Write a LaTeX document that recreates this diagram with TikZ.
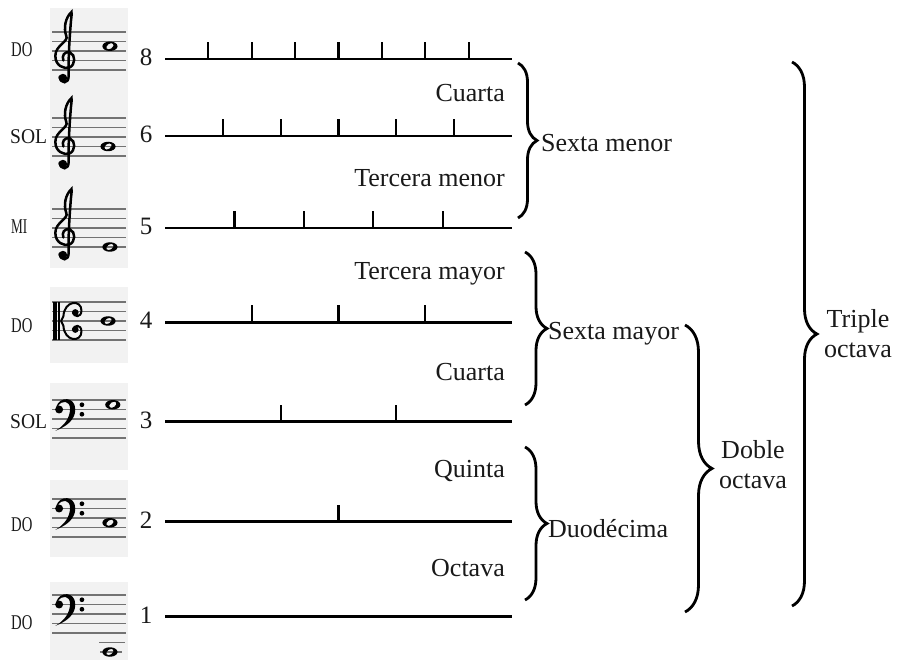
\documentclass[tikz,border=0pt]{standalone}
\usepackage{fontspec}
\setmainfont{Liberation Serif}
\usetikzlibrary{decorations.pathreplacing,calc}

\definecolor{staffbg}{gray}{0.95}
\definecolor{staffline}{gray}{0.45}

\tikzset{
  scaleline/.style={line width=2.6pt},
  scaletick/.style={line width=2.2pt},
  interval/.style={font=\fontsize{26}{30}\selectfont, text=black!90, inner sep=0pt},
  degree/.style={font=\fontsize{25}{30}\selectfont, text=black!90, inner sep=0pt},
  notename/.style={font=\fontsize{21}{24}\selectfont, text=black!90, inner sep=0pt, anchor=west},
  bigbrace/.style={decorate, decoration={brace, amplitude=#1}, line width=2.8pt},
  stafflines/.style={staffline, line width=1.3pt},
}

% staff pieces, drawn in staff units (bottom line at y=0)
\newcommand{\pentagram}{\foreach \l in {0,...,4} \draw[stafflines] (0,\l) -- (7.8,\l);}
\newcommand{\wnote}[2]{\fill[even odd rule] (#1,#2) ellipse (0.8 and 0.5)
  {[rotate around={35:(#1,#2)}] (#1,#2) ellipse (0.42 and 0.27)};}
\newcommand{\clefsol}{%
  \draw[line width=2.5pt, line cap=round]
    (0.8,-0.7) .. controls (0.9,-1.5) and (1.8,-1.5) .. (1.75,-0.6)
    .. controls (1.7,1.5) and (1.9,4.0) .. (2.0,5.2)
    .. controls (2.05,5.7) and (2.1,6.0) .. (2.05,6.1)
    .. controls (1.4,5.5) and (1.2,4.4) .. (1.5,3.6)
    .. controls (1.8,3.0) and (0.35,2.6) .. (0.35,1.5)
    .. controls (0.35,0.4) and (1.3,0.1) .. (1.8,0.25)
    .. controls (2.5,0.5) and (2.5,1.6) .. (1.9,1.85)
    .. controls (1.3,2.0) and (1.0,1.5) .. (1.2,1.0);
  \fill (1.15,-0.85) circle (0.45);}
\newcommand{\cleffa}{%
  \fill (0.75,3.0) circle (0.42);
  \fill (0.45,3.3) .. controls (0.8,4.4) and (2.45,4.4) .. (2.45,3.0)
    .. controls (2.45,1.9) and (1.5,1.2) .. (0.35,0.75)
    .. controls (1.3,1.3) and (1.9,2.1) .. (1.9,3.1)
    .. controls (1.9,3.95) and (1.0,4.05) .. (0.6,3.3) -- cycle;
  \fill (3.15,3.5) circle (0.25) (3.15,2.5) circle (0.25);}
\newcommand{\clefdo}{%
  \fill (0.1,-0.05) rectangle (0.5,4.05);
  \fill (0.65,-0.05) rectangle (0.8,4.05);
  \draw[line width=2pt] (0.95,2.0) -- (1.2,2.5) .. controls (1.3,4.2) and (3.1,4.3) .. (3.1,3.1)
    .. controls (3.1,2.3) and (2.3,2.4) .. (2.2,2.9);
  \draw[line width=2pt] (0.95,2.0) -- (1.2,1.5) .. controls (1.3,-0.2) and (3.1,-0.3) .. (3.1,0.9)
    .. controls (3.1,1.7) and (2.3,1.6) .. (2.2,1.1);
  \fill (2.45,2.9) circle (0.35) (2.45,1.1) circle (0.35);}

\begin{document}
\begin{tikzpicture}[x=1pt,y=-1pt]
\useasboundingbox (0,0) rectangle (897,660);
% staff pictures
\fill[staffbg] (50,8) rectangle (128,268);
\fill[staffbg] (50,287) rectangle (128,363);
\fill[staffbg] (50,383) rectangle (128,470);
\fill[staffbg] (50,480) rectangle (128,557);
\fill[staffbg] (50,582) rectangle (128,660);
\begin{scope}[shift={(52,70)}, x=9.5pt, y=9.5pt]
  \pentagram \clefsol \wnote{6.1}{2.5}
\end{scope}
\begin{scope}[shift={(52,156)}, x=9.5pt, y=9.5pt]
  \pentagram \clefsol \wnote{5.9}{1}
\end{scope}
\begin{scope}[shift={(52,247)}, x=9.5pt, y=9.5pt]
  \pentagram \clefsol \wnote{6.1}{0}
\end{scope}
\begin{scope}[shift={(52,340)}, x=9.5pt, y=9.5pt]
  \pentagram \clefdo \wnote{5.9}{2}
\end{scope}
\begin{scope}[shift={(52,438)}, x=9.5pt, y=9.5pt]
  \pentagram \cleffa \wnote{6.4}{3.5}
\end{scope}
\begin{scope}[shift={(52,537)}, x=9.5pt, y=9.5pt]
  \pentagram \cleffa \wnote{6.1}{1.5}
\end{scope}
\begin{scope}[shift={(52,633)}, x=9.5pt, y=9.5pt]
  \pentagram \cleffa
  \draw[stafflines] (4.95,-1) -- (7.7,-1);
  \draw[stafflines] (5.1,-2) -- (7.4,-2);
  \wnote{6.1}{-2}
\end{scope}
\node[notename] (n8) at (11,50) {\scalebox{0.7}[1]{DO}};
\node[notename] (n6) at (10,137) {\scalebox{0.93}[1]{SOL}};
\node[notename] (n5) at (11,227) {\scalebox{0.63}[1]{MI}};
\node[notename] (n4) at (11,326) {\scalebox{0.7}[1]{DO}};
\node[notename] (n3) at (10,422) {\scalebox{0.93}[1]{SOL}};
\node[notename] (n2) at (11,525) {\scalebox{0.7}[1]{DO}};
\node[notename] (n1) at (11,623) {\scalebox{0.7}[1]{DO}};

% divided lines
\foreach \n/\y in {8/59,6/136,5/228,4/322.5,3/421.5,2/521.5,1/616.5}{
  \coordinate (s\n) at (165,\y);
  \coordinate (e\n) at (512,\y);
  \draw[scaleline] (s\n) -- (e\n);
  \node[degree, anchor=base] (d\n) at (146,\y+6.5) {\n};
}
\foreach \n in {8,6,5,4,3,2}{
  \pgfmathtruncatemacro{\m}{\n-1}
  \foreach \k in {1,...,\m}
    \draw[scaletick] ($(s\n)!\k/\n!(e\n)$) -- ++(0,-17);
}

% intervals between neighbours
\node[interval, anchor=base east] (cu1) at (505,102) {Cuarta};
\node[interval, anchor=base east] (tme) at (505,187) {Tercera menor};
\node[interval, anchor=base east] (tma) at (505,280) {Tercera mayor};
\node[interval, anchor=base east] (cu2) at (505,381) {Cuarta};
\node[interval, anchor=base east] (qui) at (505,477) {Quinta};
\node[interval, anchor=base east] (oct) at (505,576) {Octava};

% braces
\coordinate (smT) at (518,63);  \coordinate (smB) at (518,218);
\coordinate (sMT) at (525,252); \coordinate (sMB) at (525,405);
\coordinate (duT) at (525,447); \coordinate (duB) at (525,600);
\coordinate (doT) at (685,325); \coordinate (doB) at (685,612);
\coordinate (trT) at (792,62);  \coordinate (trB) at (792,606);
\draw[bigbrace=19pt] (smT) -- (smB);
\draw[bigbrace=22pt] (sMT) -- (sMB);
\draw[bigbrace=22pt] (duT) -- (duB);
\draw[bigbrace=27pt] (doT) -- (doB);
\draw[bigbrace=25pt] (trT) -- (trB);
\node[interval, anchor=base west] (smen) at (541,152) {Sexta menor};
\node[interval, anchor=base west] (smay) at (548,340) {Sexta mayor};
\node[interval, anchor=base west] (duod) at (548,537) {Duodécima};
\node[interval, align=center] (doble) at (753,465) {Doble\\octava};
\node[interval, align=center] (triple) at (858,334) {Triple\\octava};
\end{tikzpicture}
\end{document}
